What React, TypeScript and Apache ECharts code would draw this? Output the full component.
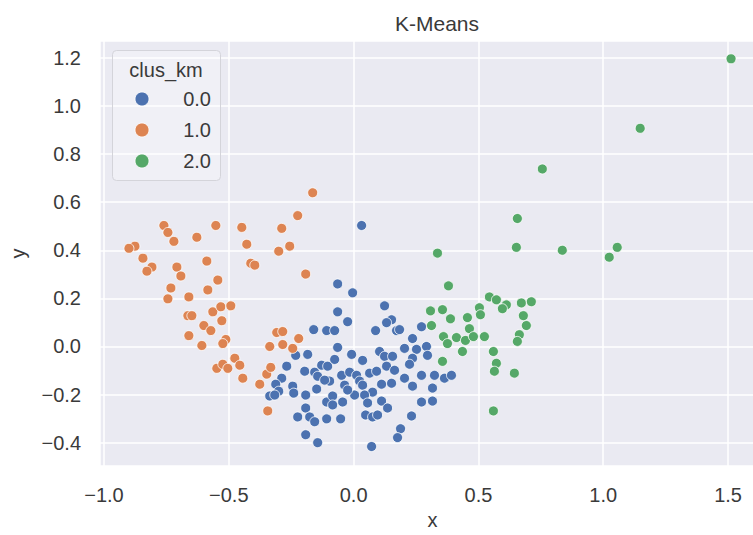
import React, { useEffect, useRef } from "react";
import * as echarts from "echarts";

const title = "K-Means";
const legendTitle = "clus_km";
const clusterNames = ["0.0", "1.0", "2.0"];
const clusterColors = ["#4c72b0", "#dd8452", "#55a868"];

const cluster0: number[][] = [
  [0.032, 0.503], [-0.064, 0.26], [-0.004, 0.223], [-0.064, 0.144], [-0.024, 0.103], [-0.16, 0.07],
  [-0.108, 0.066], [-0.076, 0.066], [0.088, 0.066], [0.172, 0.066], [0.124, 0.169], [0.152, 0.111],
  [0.132, 0.099], [0.184, 0.07], [0.272, 0.082], [0.236, 0.033], [-0.064, -0.004], [-0.232, -0.037],
  [-0.184, -0.033], [-0.008, -0.033], [0.104, -0.021], [0.124, -0.041], [0.156, -0.041], [0.204, -0.008],
  [0.252, -0.012], [0.292, 0.0], [-0.268, -0.082], [-0.196, -0.103], [-0.156, -0.107], [-0.128, -0.078],
  [-0.104, -0.082], [-0.076, -0.054], [-0.048, -0.12], [-0.016, -0.107], [0.012, -0.12], [0.024, -0.144],
  [0.064, -0.111], [0.092, -0.103], [0.132, -0.082], [0.164, -0.099], [0.236, -0.049], [0.296, -0.037],
  [0.224, -0.074], [-0.144, -0.124], [-0.096, -0.144], [-0.288, -0.132], [-0.312, -0.157], [-0.244, -0.165],
  [-0.3, -0.186], [-0.336, -0.206], [-0.316, -0.202], [-0.24, -0.194], [-0.192, -0.202], [-0.148, -0.177],
  [-0.116, -0.14], [-0.036, -0.161], [0.004, -0.202], [0.036, -0.161], [0.076, -0.19], [0.112, -0.157],
  [0.152, -0.153], [0.204, -0.132], [0.272, -0.12], [0.324, -0.12], [0.364, -0.132], [0.392, -0.12],
  [0.236, -0.165], [0.316, -0.173], [-0.108, -0.231], [-0.084, -0.206], [-0.044, -0.231], [0.044, -0.202],
  [0.112, -0.227], [0.272, -0.231], [0.316, -0.227], [-0.192, -0.256], [-0.224, -0.293], [-0.176, -0.293],
  [-0.156, -0.313], [-0.108, -0.301], [-0.052, -0.301], [0.048, -0.285], [0.076, -0.293], [0.096, -0.285],
  [0.232, -0.289], [0.188, -0.342], [-0.192, -0.367], [-0.144, -0.4], [0.072, -0.416], [0.176, -0.379],
  [-0.084, -0.243], [0.036, -0.058], [-0.024, -0.181], [0.056, -0.235], [0.136, -0.256],
];

const cluster1: number[][] = [
  [-0.164, 0.639], [-0.224, 0.544], [-0.288, 0.491], [-0.448, 0.495], [-0.552, 0.503], [-0.628, 0.454],
  [-0.76, 0.503], [-0.744, 0.474], [-0.72, 0.437], [-0.428, 0.425], [-0.256, 0.417], [-0.3, 0.396],
  [-0.876, 0.417], [-0.9, 0.408], [-0.844, 0.367], [-0.588, 0.355], [-0.412, 0.346], [-0.396, 0.338],
  [-0.808, 0.33], [-0.828, 0.313], [-0.708, 0.33], [-0.692, 0.293], [-0.544, 0.276], [-0.584, 0.235],
  [-0.732, 0.243], [-0.66, 0.206], [-0.744, 0.198], [-0.192, 0.301], [-0.664, 0.128], [-0.648, 0.128],
  [-0.6, 0.087], [-0.572, 0.066], [-0.564, 0.144], [-0.532, 0.165], [-0.528, 0.107], [-0.492, 0.169],
  [-0.66, 0.045], [-0.608, 0.004], [-0.512, 0.029], [-0.524, 0.012], [-0.548, -0.091], [-0.524, -0.074],
  [-0.504, -0.091], [-0.476, -0.049], [-0.456, -0.078], [-0.444, -0.132], [-0.376, -0.157], [-0.348, -0.115],
  [-0.332, -0.087], [-0.344, -0.268], [-0.336, 0.0], [-0.308, 0.058], [-0.284, 0.062], [-0.284, 0.008],
  [-0.244, -0.008], [-0.22, 0.033],
];

const cluster2: number[][] = [
  [1.512, 1.196], [1.148, 0.907], [0.756, 0.738], [0.656, 0.532], [0.336, 0.388], [0.652, 0.412],
  [0.836, 0.4], [1.056, 0.412], [1.024, 0.371], [0.38, 0.252], [0.544, 0.206], [0.572, 0.194],
  [0.612, 0.173], [0.596, 0.157], [0.672, 0.181], [0.712, 0.186], [0.308, 0.148], [0.356, 0.153],
  [0.388, 0.115], [0.456, 0.12], [0.504, 0.161], [0.508, 0.132], [0.68, 0.128], [0.692, 0.087],
  [0.312, 0.087], [0.464, 0.074], [0.36, 0.041], [0.376, 0.012], [0.412, 0.037], [0.448, 0.025],
  [0.48, 0.041], [0.524, 0.041], [0.664, 0.049], [0.656, 0.021], [0.436, -0.021], [0.56, -0.021],
  [0.356, -0.062], [0.572, -0.07], [0.564, -0.103], [0.644, -0.111], [0.56, -0.268],
];

const clusters = [cluster0, cluster1, cluster2];

const FONT = "'Liberation Sans', Arial, sans-serif";
const TEXT = "#3a3a3a";
const fmt = (v: number) => v.toFixed(1).replace("-", "\u2212");

export default function App() {
  const ref = useRef<HTMLDivElement>(null);
  useEffect(() => {
    if (!ref.current) return;
    const chart = echarts.init(ref.current, null, { renderer: "svg" });
    const legendItems: any[] = [];
    clusterNames.forEach((name, i) => {
      legendItems.push({
        type: "circle",
        shape: { cx: 142, cy: 99 + i * 31, r: 7 },
        style: { fill: clusterColors[i], stroke: "#fff", lineWidth: 0.8 },
        z: 101,
      });
      legendItems.push({
        type: "text",
        x: 211,
        y: 99 + i * 31,
        style: { text: name, fill: TEXT, font: `20px ${FONT}`, textAlign: "right", textVerticalAlign: "middle" },
        z: 101,
      });
    });
    chart.setOption({
      animation: false,
      backgroundColor: "#ffffff",
      title: {
        text: title,
        left: 432,
        top: 8,
        textAlign: "center",
        textStyle: { fontFamily: FONT, fontSize: 21, fontWeight: "normal", color: TEXT },
      },
      grid: {
        left: 99,
        right: 0,
        top: 41,
        bottom: 67,
        show: true,
        backgroundColor: "#eaeaf2",
        borderWidth: 0,
      },
      xAxis: {
        type: "value",
        min: -1.016,
        max: 1.648,
        splitNumber: 5,
        name: "x",
        nameLocation: "middle",
        nameGap: 44,
        nameTextStyle: { fontFamily: FONT, fontSize: 20, color: TEXT },
        axisLine: { show: false },
        axisTick: { show: false },
        axisLabel: {
          fontFamily: FONT,
          fontSize: 20,
          color: TEXT,
          margin: 19,
          showMinLabel: false,
          showMaxLabel: false,
          formatter: fmt,
        },
        splitLine: { show: true, lineStyle: { color: "#ffffff", width: 1.5 } },
      },
      yAxis: {
        type: "value",
        min: -0.497,
        max: 1.27,
        splitNumber: 8,
        name: "y",
        nameLocation: "middle",
        nameGap: 72,
        nameTextStyle: { fontFamily: FONT, fontSize: 20, color: TEXT },
        axisLine: { show: false },
        axisTick: { show: false },
        axisLabel: {
          fontFamily: FONT,
          fontSize: 20,
          color: TEXT,
          margin: 19,
          showMinLabel: false,
          showMaxLabel: false,
          formatter: fmt,
        },
        splitLine: { show: true, lineStyle: { color: "#ffffff", width: 1.5 } },
      },
      series: clusters.map((data, i) => ({
        type: "scatter",
        name: clusterNames[i],
        data,
        symbol: "circle",
        symbolSize: 10,
        itemStyle: { color: clusterColors[i], borderColor: "#ffffff", borderWidth: 0.8, opacity: 1 },
      })),
      graphic: [
        {
          type: "rect",
          shape: { x: 112.5, y: 50.5, width: 108, height: 130, r: 4 },
          style: { fill: "rgba(255,255,255,0.3)", stroke: "#d4d4da", lineWidth: 1 },
          z: 100,
        },
        {
          type: "text",
          x: 166,
          y: 70,
          style: {
            text: legendTitle,
            fill: TEXT,
            font: `20px ${FONT}`,
            textAlign: "center",
            textVerticalAlign: "middle",
          },
          z: 101,
        },
        ...legendItems,
      ],
    });
    return () => chart.dispose();
  }, []);
  return (
    <div
      ref={ref}
      style={{ position: "fixed", left: 0, top: 0, width: 765, height: 535, overflow: "hidden" }}
    />
  );
}
